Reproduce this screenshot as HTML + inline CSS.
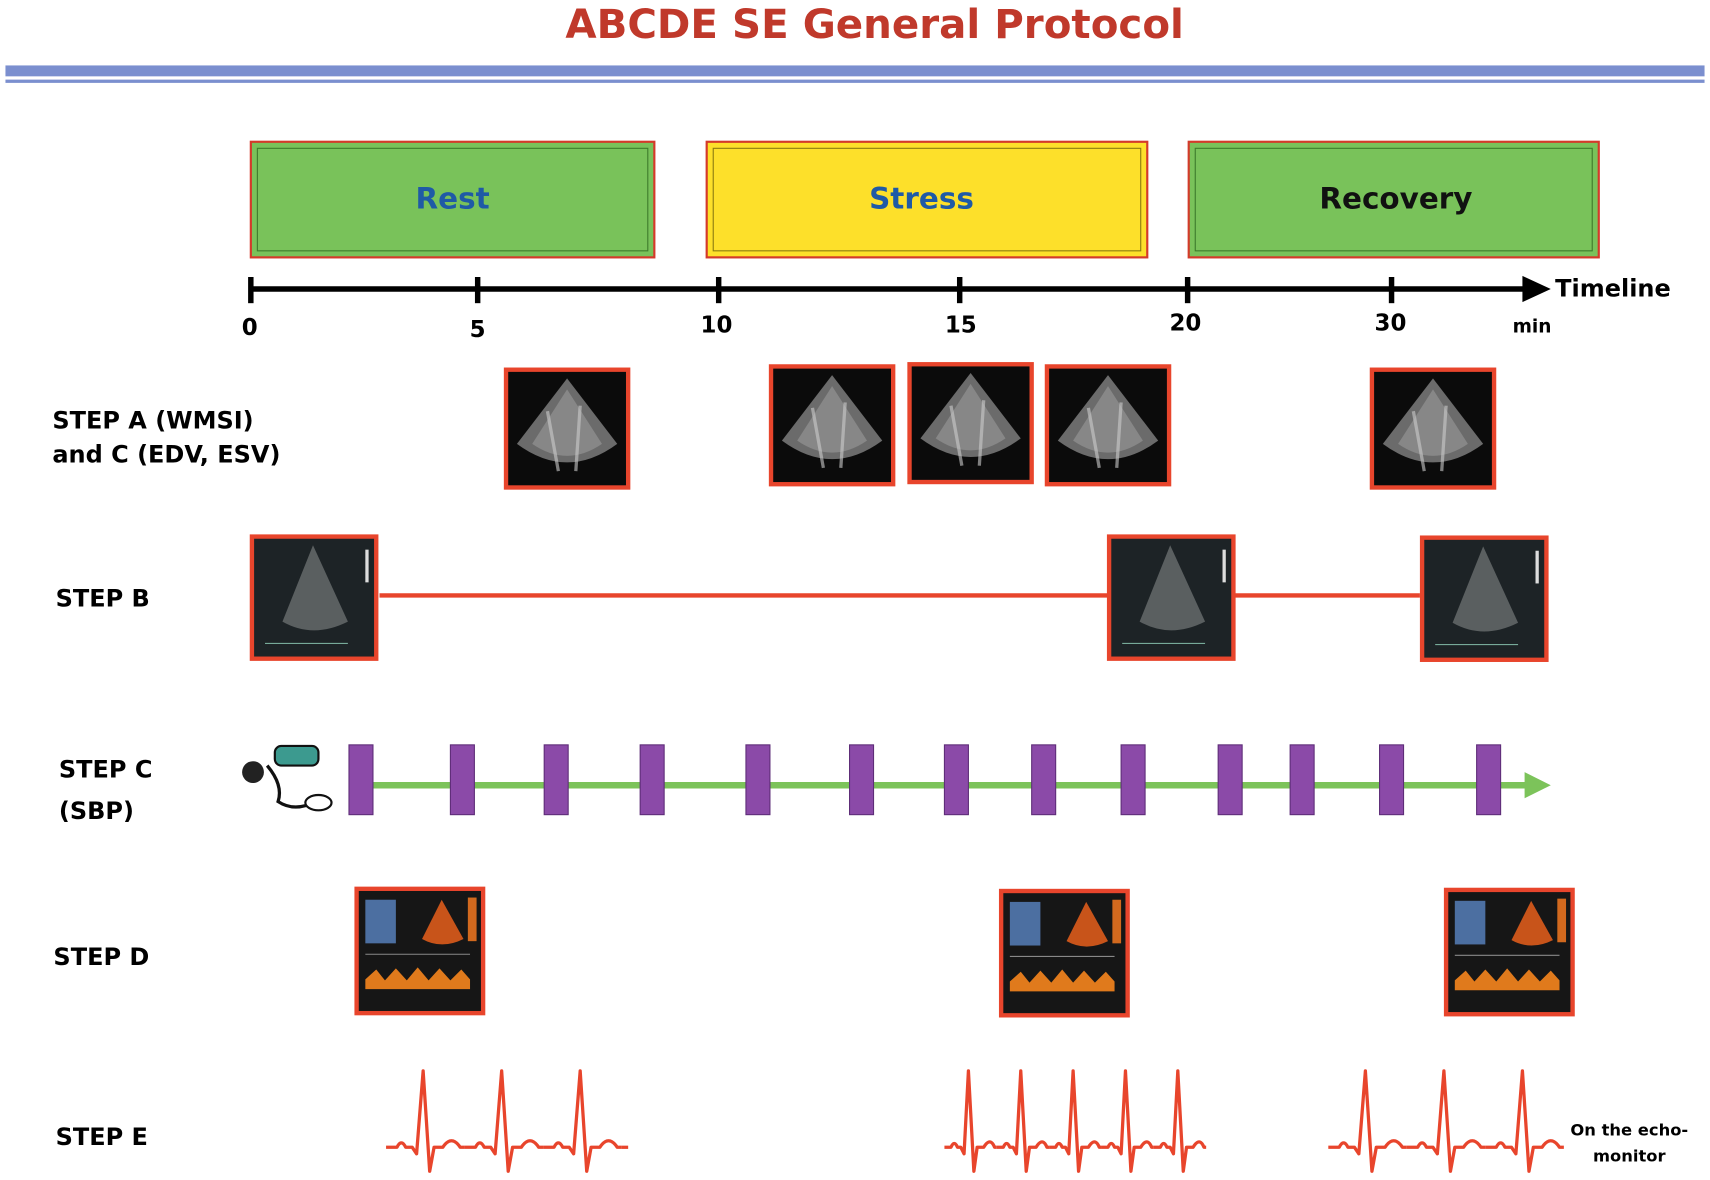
<!DOCTYPE html>
<html><head><meta charset="utf-8"><style>
html,body{margin:0;padding:0;background:#fff;}
svg{display:block;}
text{font-family:"DejaVu Sans","Liberation Sans",sans-serif;font-weight:bold;}
</style></head><body>
<svg width="1710" height="1180" viewBox="0 0 1568 1082" preserveAspectRatio="none" xmlns="http://www.w3.org/2000/svg">
<defs>
<g id="echo">
<rect x="0" y="0" width="116" height="112" fill="#e8452c"/>
<rect x="4" y="4" width="108" height="104" fill="#0b0b0b"/>
<path d="M58 10 L104 70 Q58 104 12 70 Z" fill="#6b6b6b"/>
<path d="M58 20 L90 70 Q58 92 26 70 Z" fill="#9a9a9a" opacity="0.6"/>
<path d="M40 40 L50 95 M70 35 L66 95" stroke="#ccc" stroke-width="3" opacity="0.6"/>
</g>
<g id="bmode">
<rect x="0" y="0" width="118" height="116" fill="#e8452c"/>
<rect x="4" y="4" width="110" height="108" fill="#1d2326"/>
<path d="M58 10 L90 80 Q58 96 30 80 Z" fill="#5a5f60"/>
<rect x="106" y="14" width="3" height="30" fill="#ddd"/>
<path d="M14 100 L90 100" stroke="#7a9" stroke-width="1"/>
</g>
<g id="dop">
<rect x="0" y="0" width="120" height="118" fill="#e8452c"/>
<rect x="4" y="4" width="112" height="110" fill="#161616"/>
<rect x="10" y="12" width="28" height="40" fill="#5a86c4" opacity="0.8"/>
<path d="M80 12 L100 48 Q80 58 62 48 Z" fill="#c8541a"/>
<rect x="104" y="10" width="8" height="40" fill="#d2691e"/>
<path d="M10 85 L20 76 L28 86 L38 75 L48 86 L58 74 L68 86 L78 75 L88 86 L98 76 L106 85 L106 94 L10 94 Z" fill="#e07a1c"/>
<path d="M10 62 L106 62" stroke="#888" stroke-width="1"/>
</g>
<path id="qrs" d="M0 0 L10 0 Q14 -8 18 0 L24 0 L28 6 L34 -70 L40 22 L44 0 L52 0 Q60 -12 68 0 L72 0"/>
<path id="qrs2" d="M0 0 L6 0 Q9 -7 12 0 L15 0 L18 6 L22 -70 L27 22 L30 0 L36 0 Q42 -10 46 0 L48 0"/>
</defs>

<text x="802" y="35" text-anchor="middle" font-size="37" fill="#c0392b">ABCDE SE General Protocol</text>
<rect x="5" y="60" width="1558" height="10" fill="#7b8fcf"/>
<rect x="5" y="73" width="1558" height="3" fill="#7b8fcf"/>

<rect x="230" y="130" width="370" height="106" fill="#79c25a" stroke="#d43a2a" stroke-width="2"/>
<rect x="236" y="136" width="358" height="94" fill="none" stroke="#3d7a2a" stroke-width="1"/>
<text x="415" y="191" text-anchor="middle" font-size="27" fill="#1f5aa6">Rest</text>
<rect x="648" y="130" width="404" height="106" fill="#fde02a" stroke="#d43a2a" stroke-width="2"/>
<rect x="654" y="136" width="392" height="94" fill="none" stroke="#8a7a10" stroke-width="1"/>
<text x="845" y="191" text-anchor="middle" font-size="27" fill="#1f5aa6">Stress</text>
<rect x="1090" y="130" width="376" height="106" fill="#79c25a" stroke="#d43a2a" stroke-width="2"/>
<rect x="1096" y="136" width="364" height="94" fill="none" stroke="#3d7a2a" stroke-width="1"/>
<text x="1280" y="191" text-anchor="middle" font-size="27" fill="#111">Recovery</text>

<line x1="230" y1="265" x2="1400" y2="265" stroke="#000" stroke-width="5"/>
<polygon points="1396,253 1422,265 1396,277" fill="#000"/>
<g stroke="#000" stroke-width="5">
<line x1="230" y1="254" x2="230" y2="278"/><line x1="438" y1="254" x2="438" y2="278"/>
<line x1="659" y1="254" x2="659" y2="278"/><line x1="880" y1="254" x2="880" y2="278"/>
<line x1="1089" y1="254" x2="1089" y2="278"/><line x1="1276" y1="254" x2="1276" y2="278"/>
</g>
<g font-size="21" fill="#000" text-anchor="middle">
<text x="229" y="307">0</text><text x="438" y="309">5</text><text x="657" y="305">10</text>
<text x="881" y="305">15</text><text x="1087" y="303">20</text><text x="1275" y="303">30</text>
</g>
<text x="1426" y="272" font-size="22">Timeline</text>
<text x="1387" y="305" font-size="17">min</text>

<g font-size="22" fill="#000">
<text x="48" y="393">STEP A (WMSI)</text>
<text x="48" y="424">and C (EDV, ESV)</text>
<text x="51" y="556">STEP B</text>
<text x="54" y="713">STEP C</text>
<text x="54" y="751">(SBP)</text>
<text x="49" y="885">STEP D</text>
<text x="51" y="1050">STEP E</text>
</g>
<text x="1494" y="1041" font-size="15" text-anchor="middle">On the echo-</text>
<text x="1494" y="1065" font-size="15" text-anchor="middle">monitor</text>

<use href="#echo" x="462" y="337"/>
<use href="#echo" x="705" y="334"/>
<use href="#echo" x="832" y="332"/>
<use href="#echo" x="958" y="334"/>
<use href="#echo" x="1256" y="337"/>

<line x1="348" y1="546" x2="1302" y2="546" stroke="#e8452c" stroke-width="4"/>
<use href="#bmode" x="229" y="490"/>
<use href="#bmode" x="1015" y="490"/>
<use href="#bmode" x="1302" y="491"/>

<line x1="330" y1="720" x2="1400" y2="720" stroke="#7cc35a" stroke-width="6"/>
<polygon points="1398,708 1422,720 1398,732" fill="#7cc35a"/>
<g fill="#8b4aa8" stroke="#5e2d78" stroke-width="1">
<rect x="320" y="683" width="22" height="64"/><rect x="413" y="683" width="22" height="64"/>
<rect x="499" y="683" width="22" height="64"/><rect x="587" y="683" width="22" height="64"/>
<rect x="684" y="683" width="22" height="64"/><rect x="779" y="683" width="22" height="64"/>
<rect x="866" y="683" width="22" height="64"/><rect x="946" y="683" width="22" height="64"/>
<rect x="1028" y="683" width="22" height="64"/><rect x="1117" y="683" width="22" height="64"/>
<rect x="1183" y="683" width="22" height="64"/><rect x="1265" y="683" width="22" height="64"/>
<rect x="1354" y="683" width="22" height="64"/>
</g>
<g>
<rect x="252" y="684" width="40" height="18" rx="6" fill="#3c9a8f" stroke="#111" stroke-width="2"/>
<circle cx="232" cy="708" r="10" fill="#222"/>
<path d="M245 702 Q260 720 255 735 Q270 745 290 735" stroke="#111" stroke-width="3" fill="none"/>
<ellipse cx="292" cy="736" rx="12" ry="7" fill="#fff" stroke="#111" stroke-width="2"/>
</g>

<use href="#dop" x="325" y="813"/>
<use href="#dop" x="916" y="815"/>
<use href="#dop" x="1324" y="814"/>

<g stroke="#e8452c" stroke-width="3" fill="none" stroke-linejoin="round">
<use href="#qrs" x="354" y="1052"/><use href="#qrs" x="426" y="1052"/><use href="#qrs" x="498" y="1052"/>
<line x1="570" y1="1052" x2="576" y2="1052"/>
<use href="#qrs2" x="866" y="1052"/><use href="#qrs2" x="914" y="1052"/><use href="#qrs2" x="962" y="1052"/>
<use href="#qrs2" x="1010" y="1052"/><use href="#qrs2" x="1058" y="1052"/>
<use href="#qrs" x="1218" y="1052"/><use href="#qrs" x="1290" y="1052"/><use href="#qrs" x="1362" y="1052"/>
</g>
</svg>
</body></html>
